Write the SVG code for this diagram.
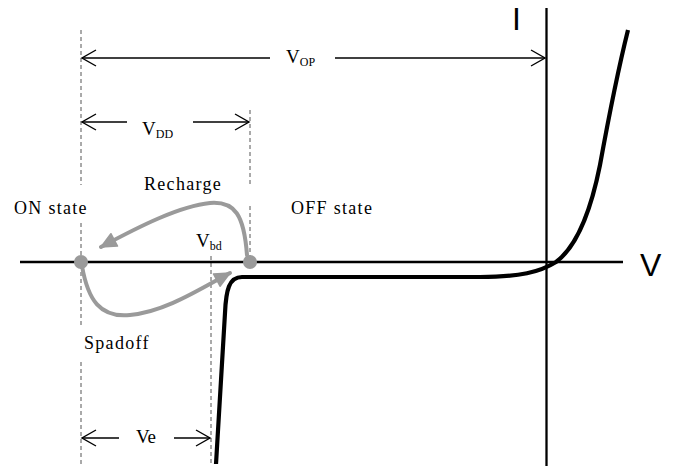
<svg xmlns="http://www.w3.org/2000/svg" width="676" height="466" viewBox="0 0 676 466">
<style>
.axis{stroke:#000;stroke-width:2.3;fill:none}
.dash{stroke:#555;stroke-width:1;stroke-dasharray:4 3;fill:none}
.dim{stroke:#000;stroke-width:1.3;fill:none}
.gray{stroke:#9a9a9a;stroke-width:4;fill:none;stroke-linecap:round}
.iv{stroke:#000;stroke-width:4.2;fill:none;stroke-linejoin:round}
.lbl{font-family:"Liberation Serif","Times New Roman",serif;font-size:18px;fill:#000;letter-spacing:1.3px}
.sym{font-family:"Liberation Serif","Times New Roman",serif;font-size:19px;fill:#000}
.sub{font-size:12px}
.ax{font-family:"Liberation Sans",Arial,sans-serif;font-size:32px;fill:#000}
</style>
<defs>
<marker id="dimArrow" markerUnits="userSpaceOnUse" markerWidth="20" markerHeight="20" viewBox="-16 -10 20 20" refX="0" refY="0" orient="auto">
<path d="M-14,-8 L0,0 L-14,8" fill="none" stroke="#000" stroke-width="1.4"/>
</marker>
<marker id="grayArrow" markerUnits="userSpaceOnUse" markerWidth="24" markerHeight="24" viewBox="-18 -12 24 24" refX="0" refY="0" orient="auto">
<path d="M-15,-7 L0,0 L-15,7 Z" fill="#9a9a9a" stroke="#9a9a9a" stroke-width="1.5" stroke-linejoin="round"/>
</marker>
</defs>
<rect width="676" height="466" fill="#fff"/>
<g id="guides">
<path class="dash" d="M81,30 V185 M81,223 V325 M81,362 V466"/>
<path class="dash" d="M250,110 V184 M250,206 V258"/>
<path class="dash" d="M211,256 V464"/>
</g>
<g id="axes">
<line class="axis" x1="20" y1="262" x2="623" y2="262"/>
<line class="axis" x1="546.5" y1="8" x2="546.5" y2="466"/>
<text class="ax" x="640" y="276">V</text>
<text class="ax" x="512" y="30">I</text>
</g>
<g id="connectors">
<line class="dim" x1="270" y1="58" x2="82" y2="58" marker-end="url(#dimArrow)"/>
<line class="dim" x1="335" y1="58" x2="545" y2="58" marker-end="url(#dimArrow)"/>
<line class="dim" x1="127" y1="122" x2="82" y2="122" marker-end="url(#dimArrow)"/>
<line class="dim" x1="193" y1="122" x2="249" y2="122" marker-end="url(#dimArrow)"/>
<line class="dim" x1="119" y1="438" x2="82" y2="438" marker-end="url(#dimArrow)"/>
<line class="dim" x1="174" y1="438" x2="210" y2="438" marker-end="url(#dimArrow)"/>
<path class="gray" d="M247,255 C244,215 235,201 210,203 C180,206 140,226 101,247" marker-end="url(#grayArrow)"/>
<path class="gray" d="M82,266 C88,300 100,318 130,315 C165,312 200,289 230,273" marker-end="url(#grayArrow)"/>
</g>
<g id="iv-curve">
<path class="iv" d="M216,464 L225,313 C226,290 229,277 242,277 L480,277 C520,277 540,272 556,262 C575,248 590,215 600,165 C610,110 618,70 628,30"/>
</g>
<g id="on-node">
<circle cx="81" cy="262" r="7" fill="#9a9a9a"/>
</g>
<g id="off-node">
<circle cx="250" cy="262" r="7" fill="#9a9a9a"/>
</g>
<g id="labels">
<text class="lbl" x="14" y="214">ON state</text>
<text class="lbl" x="144" y="190">Recharge</text>
<text class="lbl" x="291" y="214">OFF state</text>
<text class="lbl" x="84" y="349" letter-spacing="2">Spadoff</text>
<text class="sym" x="286" y="63">V<tspan class="sub" dy="3">OP</tspan></text>
<text class="sym" x="142" y="135">V<tspan class="sub" dy="3">DD</tspan></text>
<text class="sym" x="196" y="247">V<tspan class="sub" dy="3">bd</tspan></text>
<text class="sym" x="136" y="443">Ve</text>
</g>
</svg>
